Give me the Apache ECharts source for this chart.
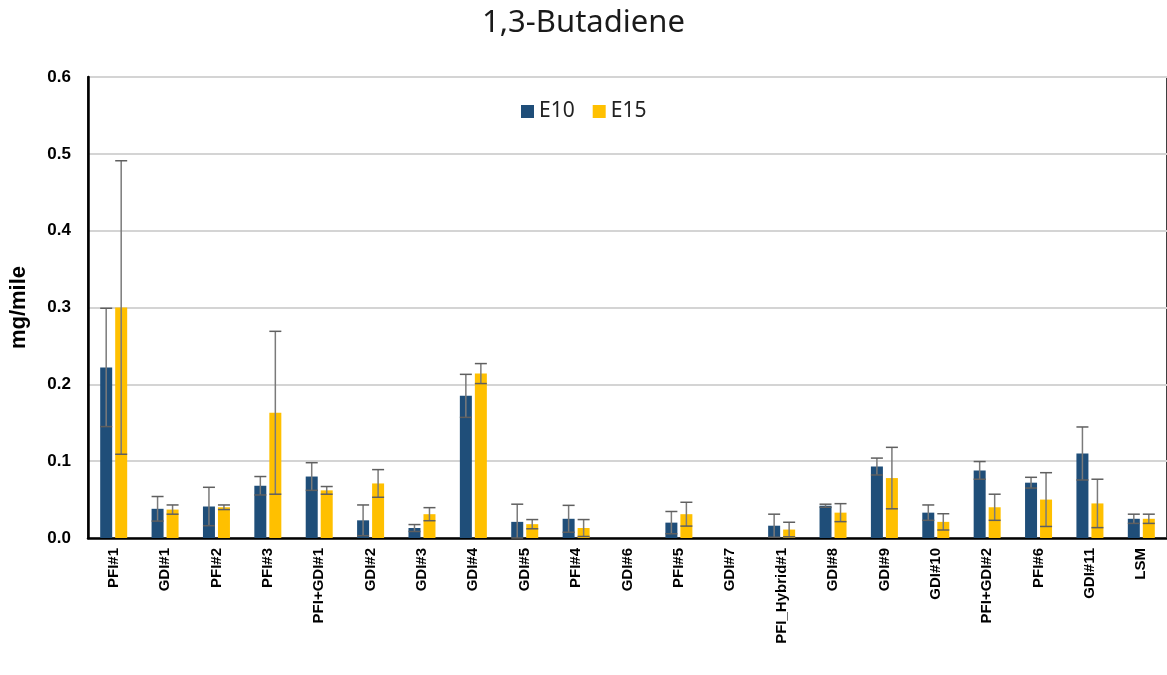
<!DOCTYPE html>
<html>
<head>
<meta charset="utf-8">
<script src="https://cdn.jsdelivr.net/npm/echarts@6/dist/echarts.min.js"></script>
<style>
  html, body { margin: 0; padding: 0; background: #fff; }
  #chart { width: 1167px; height: 675px; }
</style>
</head>
<body>
<div id="chart"></div>
<script>
const categories = ['PFI#1', 'GDI#1', 'PFI#2', 'PFI#3', 'PFI+GDI#1', 'GDI#2', 'GDI#3', 'GDI#4', 'GDI#5', 'PFI#4',
  'GDI#6', 'PFI#5', 'GDI#7', 'PFI_Hybrid#1', 'GDI#8', 'GDI#9', 'GDI#10', 'PFI+GDI#2', 'PFI#6', 'GDI#11', 'LSM'];
const e10 = [0.222, 0.038, 0.041, 0.068, 0.080, 0.023, 0.013, 0.185, 0.021, 0.025,
  null, 0.020, null, 0.016, 0.042, 0.093, 0.033, 0.088, 0.072, 0.110, 0.025];
const e10Err = [0.077, 0.016, 0.025, 0.012, 0.018, 0.020, 0.0045, 0.028, 0.023, 0.0175,
  null, 0.0145, null, 0.015, 0.002, 0.011, 0.010, 0.0115, 0.007, 0.0345, 0.006];
const e15 = [0.300, 0.037, 0.040, 0.163, 0.062, 0.071, 0.031, 0.214, 0.018, 0.013,
  null, 0.031, null, 0.011, 0.033, 0.078, 0.021, 0.040, 0.050, 0.045, 0.025];
const e15Err = [0.191, 0.006, 0.003, 0.106, 0.005, 0.018, 0.0085, 0.013, 0.006, 0.011,
  null, 0.0155, null, 0.0095, 0.0117, 0.040, 0.0106, 0.017, 0.035, 0.0315, 0.006];
const yTicks = [0, 0.1, 0.2, 0.3, 0.4, 0.5, 0.6];

const BAR_W = 12;
const GAP = 3;

// error bar series: [index, value, err], shifted to sit on its own bar
function errorSeries(name, vals, errs, offset) {
  const data = [];
  vals.forEach((v, i) => {
    if (v != null && errs[i] != null) data.push([i, v, errs[i]]);
  });
  return {
    type: 'custom',
    name: name + ' err',
    z: 10,
    encode: { x: 0, y: 1 },
    data: data,
    silent: true,
    renderItem: function (params, api) {
      const idx = api.value(0);
      const v = api.value(1);
      const e = api.value(2);
      const hi = api.coord([idx, v + e]);
      const lo = api.coord([idx, Math.max(0, v - e)]);
      const x = hi[0] + offset;
      const half = BAR_W / 2;
      const style = { stroke: '#5f5f5f', lineWidth: 1.5 };
      return {
        type: 'group',
        children: [
          { type: 'line', shape: { x1: x, y1: hi[1], x2: x, y2: lo[1] }, style: { stroke: '#7a7a7a', lineWidth: 1.5 } },
          { type: 'line', shape: { x1: x - half, y1: hi[1], x2: x + half, y2: hi[1] }, style: style },
          { type: 'line', shape: { x1: x - half, y1: lo[1], x2: x + half, y2: lo[1] }, style: style }
        ]
      };
    }
  };
}

const chart = echarts.init(document.getElementById('chart'));
const off = (BAR_W + GAP) / 2;

chart.setOption({
  animation: false,
  title: {
    text: '1,3-Butadiene',
    left: 'center',
    top: 3,
    textStyle: { fontFamily: 'Noto Sans', fontSize: 31, fontWeight: 'normal', color: '#1a1a1a' }
  },
  legend: {
    data: ['E10', 'E15'],
    left: 516,
    top: 96,
    itemWidth: 13,
    itemHeight: 13,
    itemGap: 18,
    icon: 'rect',
    textStyle: { fontFamily: 'Noto Sans', fontSize: 21, color: '#222' }
  },
  grid: {
    left: 88,
    top: 77,
    width: 1082,
    bottom: 137,
    show: true,
    borderColor: '#000',
    borderWidth: 1.5
  },
  xAxis: {
    type: 'category',
    data: categories,
    axisLine: { lineStyle: { color: '#000', width: 2.5 } },
    axisTick: { show: false },
    axisLabel: {
      rotate: 90,
      interval: 0,
      margin: 10,
      fontFamily: 'Liberation Sans',
      fontWeight: 'bold',
      fontSize: 15,
      color: '#000'
    }
  },
  yAxis: {
    type: 'value',
    min: yTicks[0],
    max: yTicks[yTicks.length - 1],
    interval: 0.1,
    name: 'mg/mile',
    nameLocation: 'middle',
    nameGap: 58,
    nameTextStyle: { fontFamily: 'Liberation Sans', fontWeight: 'bold', fontSize: 22, color: '#000' },
    axisLine: { show: true, lineStyle: { color: '#000', width: 2.5 } },
    axisTick: { show: false },
    axisLabel: {
      margin: 17,
      fontFamily: 'Liberation Sans',
      fontWeight: 'bold',
      fontSize: 17,
      color: '#000',
      formatter: v => v.toFixed(1)
    },
    splitLine: { lineStyle: { color: '#d4d4d4', width: 2 } }
  },
  series: [
    {
      name: 'E10',
      type: 'bar',
      data: e10,
      barWidth: BAR_W,
      barGap: (GAP / BAR_W * 100) + '%',
      itemStyle: { color: '#1f4e79' }
    },
    {
      name: 'E15',
      type: 'bar',
      data: e15,
      barWidth: BAR_W,
      itemStyle: { color: '#ffc000' }
    },
    errorSeries('E10', e10, e10Err, -off),
    errorSeries('E15', e15, e15Err, off)
  ]
});
</script>
</body>
</html>
